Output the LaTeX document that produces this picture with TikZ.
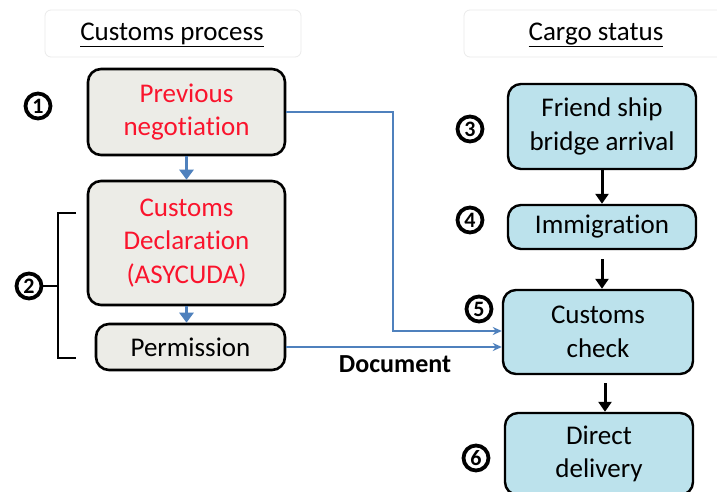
\documentclass[tikz,border=0pt]{standalone}
\usepackage{fontspec}
\setmainfont{Carlito}[Ligatures=NoCommon]
\usetikzlibrary{arrows.meta}
\definecolor{procfill}{RGB}{236,236,231}
\definecolor{cargofill}{RGB}{188,226,236}
\definecolor{linkblue}{RGB}{79,129,189}
\definecolor{textred}{RGB}{250,20,45}
\tikzset{
  every node/.style={font=\fontsize{27}{33.5}\selectfont},
  procbox/.style={draw=black, line width=2.6pt, rounded corners=13pt, fill=procfill, align=center, inner sep=0pt},
  cargobox/.style={draw=black, line width=2.4pt, rounded corners=13pt, fill=cargofill, align=center, inner sep=0pt},
  headbox/.style={draw=black!8, line width=0.8pt, rounded corners=6pt, fill=white},
  nummark/.style={circle, draw=black, line width=3.8pt, minimum size=25pt, inner sep=0pt,
                  font=\fontsize{22}{22}\selectfont\bfseries},
  bluestep/.style={draw=linkblue, line width=3.8pt, -{Triangle[length=10pt,width=14pt]}},
  bluelink/.style={draw=linkblue, line width=1.8pt, -{Stealth[length=9pt,width=8pt]}},
  blackstep/.style={draw=black, line width=3pt, -{Triangle[length=10pt,width=13pt]}},
}
\begin{document}
\begin{tikzpicture}[x=1pt, y=-1pt]
\clip (0,0) rectangle (717,492);
\fill[white] (0,0) rectangle (717,492);

% column headings
\draw[headbox] (45,10) rectangle (301,57);
\draw[headbox] (464,10) rectangle (730,57);
\node (hproc) at (172,35) {\underline{Customs process}};
\node (hcargo) at (596,35) {\underline{Cargo status}};

% customs process column
\node[procbox, minimum width=197pt, minimum height=86pt, text=textred] (b1) at (186.5,112) {Previous\\negotiation};
\node[procbox, minimum width=197pt, minimum height=124pt, text=textred] (b2) at (186.5,243) {Customs\\Declaration\\(ASYCUDA)};
\node[procbox, minimum width=189pt, minimum height=46pt] (perm) at (190.5,347) {Permission};

% cargo status column
\node[cargobox, minimum width=188pt, minimum height=85pt] (b3) at (602,126.5) {Friend ship\\bridge arrival};
\node[cargobox, minimum width=188pt, minimum height=44pt] (b4) at (602,227) {Immigration};
\node[cargobox, minimum width=190pt, minimum height=84pt] (b5) at (598,332) {Customs\\check};
\node[cargobox, minimum width=188pt, minimum height=82pt] (b6) at (599,454) {Direct\\delivery};

% step numbers
\node[nummark] (n1) at (38,106) {1};
\node[nummark] (n2) at (29,286) {2};
\node[nummark] (n3) at (470,129) {3};
\node[nummark] (n4) at (470,220) {4};
\node[nummark] (n5) at (479,309) {5};
\node[nummark] (n6) at (476,458) {6};

% bracket grouping declaration and permission
\coordinate (brtop) at (76,213);
\coordinate (brbot) at (76,358);
\draw[line width=1.8pt] (brtop) -- (58,213) -- (58,358) -- (brbot);
\draw[line width=1.8pt] (58,286) -- (n2.east);

% process flow
\draw[bluestep] (b1.south) -- (b2.north);
\draw[bluestep] (b2.south) -- (b2.south |- perm.north);

% links to customs check
\coordinate (turn) at (393,0);
\draw[bluelink] (b1.east) -- (b1.east -| turn) |- ([yshift=1pt]b5.west);
\draw[bluelink] (perm.east) -- (perm.east -| b5.west);
\node[font=\fontsize{26}{30}\selectfont\bfseries] (doc) at (395,364) {Document};

% cargo flow
\draw[blackstep] (b3.south) -- (b4.north);
\draw[blackstep, shorten <=9pt] (b4.south) -- (b4.south |- b5.north);
\draw[blackstep, shorten <=8pt] ([xshift=7pt]b5.south) -- ([xshift=7pt]b5.south |- b6.north);
\end{tikzpicture}
\end{document}
